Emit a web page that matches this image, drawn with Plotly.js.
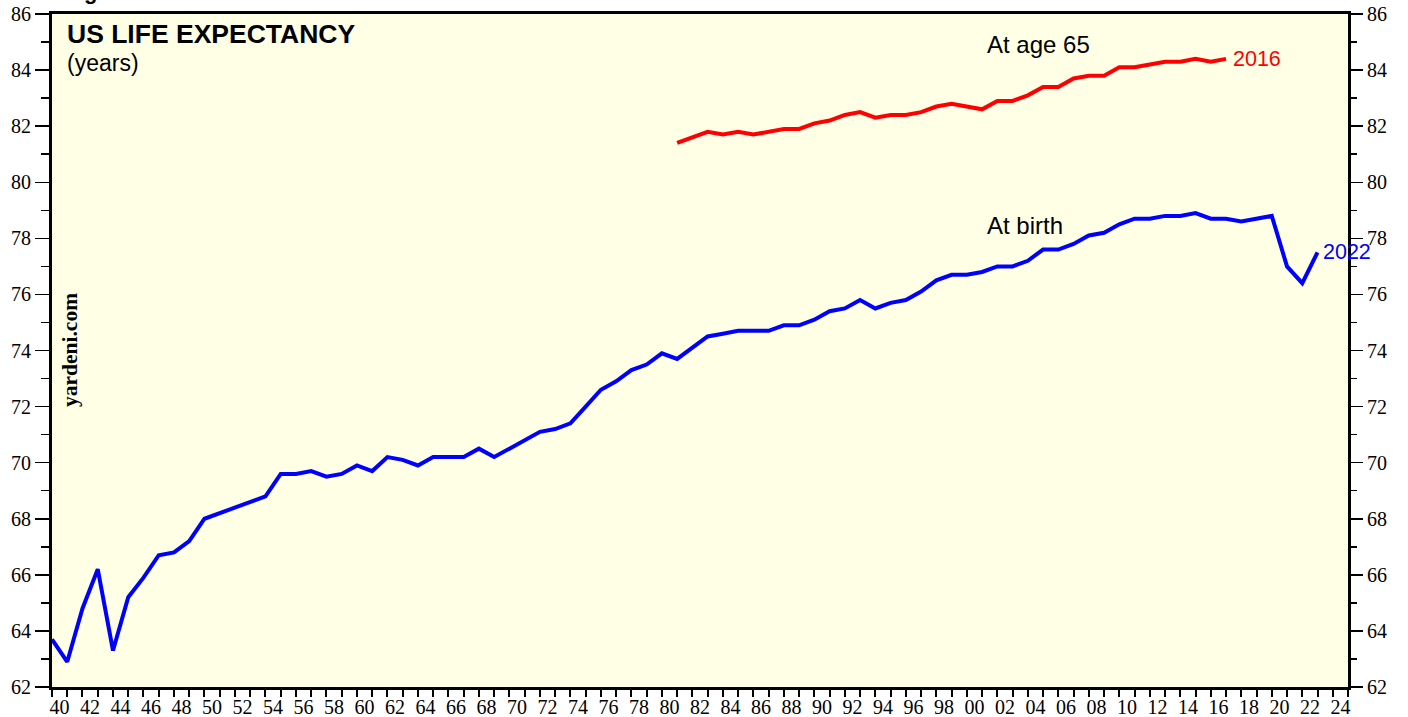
<!DOCTYPE html>
<html>
<head>
<meta charset="utf-8">
<script src="https://cdn.plot.ly/plotly-3.0.1.min.js"></script>
<style>
  html, body { margin: 0; padding: 0; background: #ffffff; }
  #chart { width: 1408px; height: 717px; }
</style>
</head>
<body>
<div id="chart"></div>
<script>
// ---- Data (annual values; each year's point is drawn at the end of that year) ----
const birthYears = [1939,1940,1941,1942,1943,1944,1945,1946,1947,1948,1949,
  1950,1951,1952,1953,1954,1955,1956,1957,1958,1959,
  1960,1961,1962,1963,1964,1965,1966,1967,1968,1969,
  1970,1971,1972,1973,1974,1975,1976,1977,1978,1979,
  1980,1981,1982,1983,1984,1985,1986,1987,1988,1989,
  1990,1991,1992,1993,1994,1995,1996,1997,1998,1999,
  2000,2001,2002,2003,2004,2005,2006,2007,2008,2009,
  2010,2011,2012,2013,2014,2015,2016,2017,2018,2019,
  2020,2021,2022];
const birthValues = [63.7,62.9,64.8,66.2,63.3,65.2,65.9,66.7,66.8,67.2,68.0,
  68.2,68.4,68.6,68.8,69.6,69.6,69.7,69.5,69.6,69.9,
  69.7,70.2,70.1,69.9,70.2,70.2,70.2,70.5,70.2,70.5,
  70.8,71.1,71.2,71.4,72.0,72.6,72.9,73.3,73.5,73.9,
  73.7,74.1,74.5,74.6,74.7,74.7,74.7,74.9,74.9,75.1,
  75.4,75.5,75.8,75.5,75.7,75.8,76.1,76.5,76.7,76.7,
  76.8,77.0,77.0,77.2,77.6,77.6,77.8,78.1,78.2,78.5,
  78.7,78.7,78.8,78.8,78.9,78.7,78.7,78.6,78.7,78.8,
  77.0,76.4,77.5];

const age65Years = [1980,1981,1982,1983,1984,1985,1986,1987,1988,1989,
  1990,1991,1992,1993,1994,1995,1996,1997,1998,1999,
  2000,2001,2002,2003,2004,2005,2006,2007,2008,2009,
  2010,2011,2012,2013,2014,2015,2016];
const age65Values = [81.4,81.6,81.8,81.7,81.8,81.7,81.8,81.9,81.9,82.1,
  82.2,82.4,82.5,82.3,82.4,82.4,82.5,82.7,82.8,82.7,
  82.6,82.9,82.9,83.1,83.4,83.4,83.7,83.8,83.8,84.1,
  84.1,84.2,84.3,84.3,84.4,84.3,84.4];

const xLabelYears = [];
for (let y = 1940; y <= 2024; y += 2) xLabelYears.push(y);
const xLabelText = xLabelYears.map(y => String(y % 100).padStart(2, '0'));
const xMinorTicks = [];
for (let y = 1940; y <= 2025; y++) xMinorTicks.push(y);

const seriesNames = ['At birth', 'At age 65'];
const lastBirthYear = birthYears[birthYears.length - 1];
const lastAge65Year = age65Years[age65Years.length - 1];

// ---- Traces ----
const yearEnd = ys => ys.map(y => y + 1);
const traces = [
  {
    x: yearEnd(age65Years), y: age65Values, type: 'scatter', mode: 'lines',
    name: seriesNames[1], line: {color: '#ff0000', width: 4}, hoverinfo: 'skip'
  },
  {
    x: yearEnd(birthYears), y: birthValues, type: 'scatter', mode: 'lines',
    name: seriesNames[0], line: {color: '#0000ff', width: 4}, hoverinfo: 'skip'
  },
  { // carries the right-hand axis
    x: [1940], y: [62], type: 'scatter', mode: 'markers', yaxis: 'y2',
    marker: {opacity: 0}, hoverinfo: 'skip', showlegend: false
  }
];

const tickFont = {family: '"Liberation Serif", "Times New Roman", serif', size: 20, color: '#000'};
const yAxisCommon = {
  range: [62, 86], dtick: 2, tick0: 62, ticks: 'outside', ticklen: 14, tickwidth: 1.5,
  tickcolor: '#000', showgrid: false, zeroline: false, tickfont: tickFont,
  minor: {dtick: 1, tick0: 62, ticks: 'outside', ticklen: 8, tickwidth: 1.5, tickcolor: '#000', showgrid: false}
};

const layout = {
  width: 1408, height: 717,
  margin: {l: 52, r: 60, t: 14, b: 30},
  paper_bgcolor: '#ffffff',
  plot_bgcolor: '#ffffe6',
  showlegend: false,
  xaxis: {
    range: [1940, 2025], tickmode: 'array',
    tickvals: xLabelYears.map(y => y + 0.5), ticktext: xLabelText,
    ticks: '', tickfont: tickFont, showgrid: false, zeroline: false,
    showline: true, linecolor: '#000', linewidth: 3, mirror: true,
    minor: {tickmode: 'array', tickvals: xMinorTicks, ticks: 'outside', ticklen: 7,
            tickwidth: 2, tickcolor: '#000', showgrid: false},
    fixedrange: true
  },
  yaxis: Object.assign({}, yAxisCommon, {
    side: 'left', showline: true, linecolor: '#000', linewidth: 3, mirror: true, fixedrange: true
  }),
  yaxis2: Object.assign({}, yAxisCommon, {
    side: 'right', overlaying: 'y', showline: false, fixedrange: true
  }),
  annotations: [
    {xref: 'paper', yref: 'paper', x: (90 - 52) / 1296, y: 1.0, xanchor: 'center', yanchor: 'bottom',
     yshift: 8, text: '<b>g</b>', showarrow: false,
     font: {family: '"Liberation Sans", Arial, sans-serif', size: 22, color: '#000'}},
    {xref: 'paper', yref: 'paper', x: (65 - 52) / 1296, y: (687 - 34) / 673,
     xanchor: 'left', yanchor: 'middle', text: '<b>US LIFE EXPECTANCY</b>', showarrow: false,
     font: {family: '"Liberation Sans", Arial, sans-serif', size: 26.5, color: '#000'}},
    {xref: 'paper', yref: 'paper', x: (65 - 52) / 1296, y: (687 - 63) / 673,
     xanchor: 'left', yanchor: 'middle', text: '(years)', showarrow: false,
     font: {family: '"Liberation Sans", Arial, sans-serif', size: 23, color: '#000'}},
    {xref: 'paper', yref: 'paper', x: (70 - 52) / 1296, y: (687 - 350) / 673,
     xanchor: 'center', yanchor: 'middle', textangle: -90, text: '<b>yardeni.com</b>', showarrow: false,
     font: {family: '"Liberation Serif", "Times New Roman", serif', size: 21.5, color: '#000'}},
    {xref: 'x', yref: 'y', x: 2001.2, y: 84.9, xanchor: 'left', yanchor: 'middle',
     text: seriesNames[1], showarrow: false,
     font: {family: '"Liberation Sans", Arial, sans-serif', size: 24, color: '#000'}},
    {xref: 'x', yref: 'y', x: 2001.2, y: 78.45, xanchor: 'left', yanchor: 'middle',
     text: seriesNames[0], showarrow: false,
     font: {family: '"Liberation Sans", Arial, sans-serif', size: 24, color: '#000'}},
    {xref: 'x', yref: 'y', x: lastAge65Year + 1, y: age65Values[age65Values.length - 1],
     xanchor: 'left', yanchor: 'middle', xshift: 5, text: String(lastAge65Year), showarrow: false,
     font: {family: '"Liberation Sans", Arial, sans-serif', size: 21.5, color: '#ff0000'}},
    {xref: 'x', yref: 'y', x: lastBirthYear + 1, y: birthValues[birthValues.length - 1],
     xanchor: 'left', yanchor: 'middle', xshift: 3, text: String(lastBirthYear), showarrow: false,
     font: {family: '"Liberation Sans", Arial, sans-serif', size: 21.5, color: '#0000ff'}}
  ]
};

Plotly.newPlot('chart', traces, layout, {displayModeBar: false, staticPlot: true});
</script>
</body>
</html>
